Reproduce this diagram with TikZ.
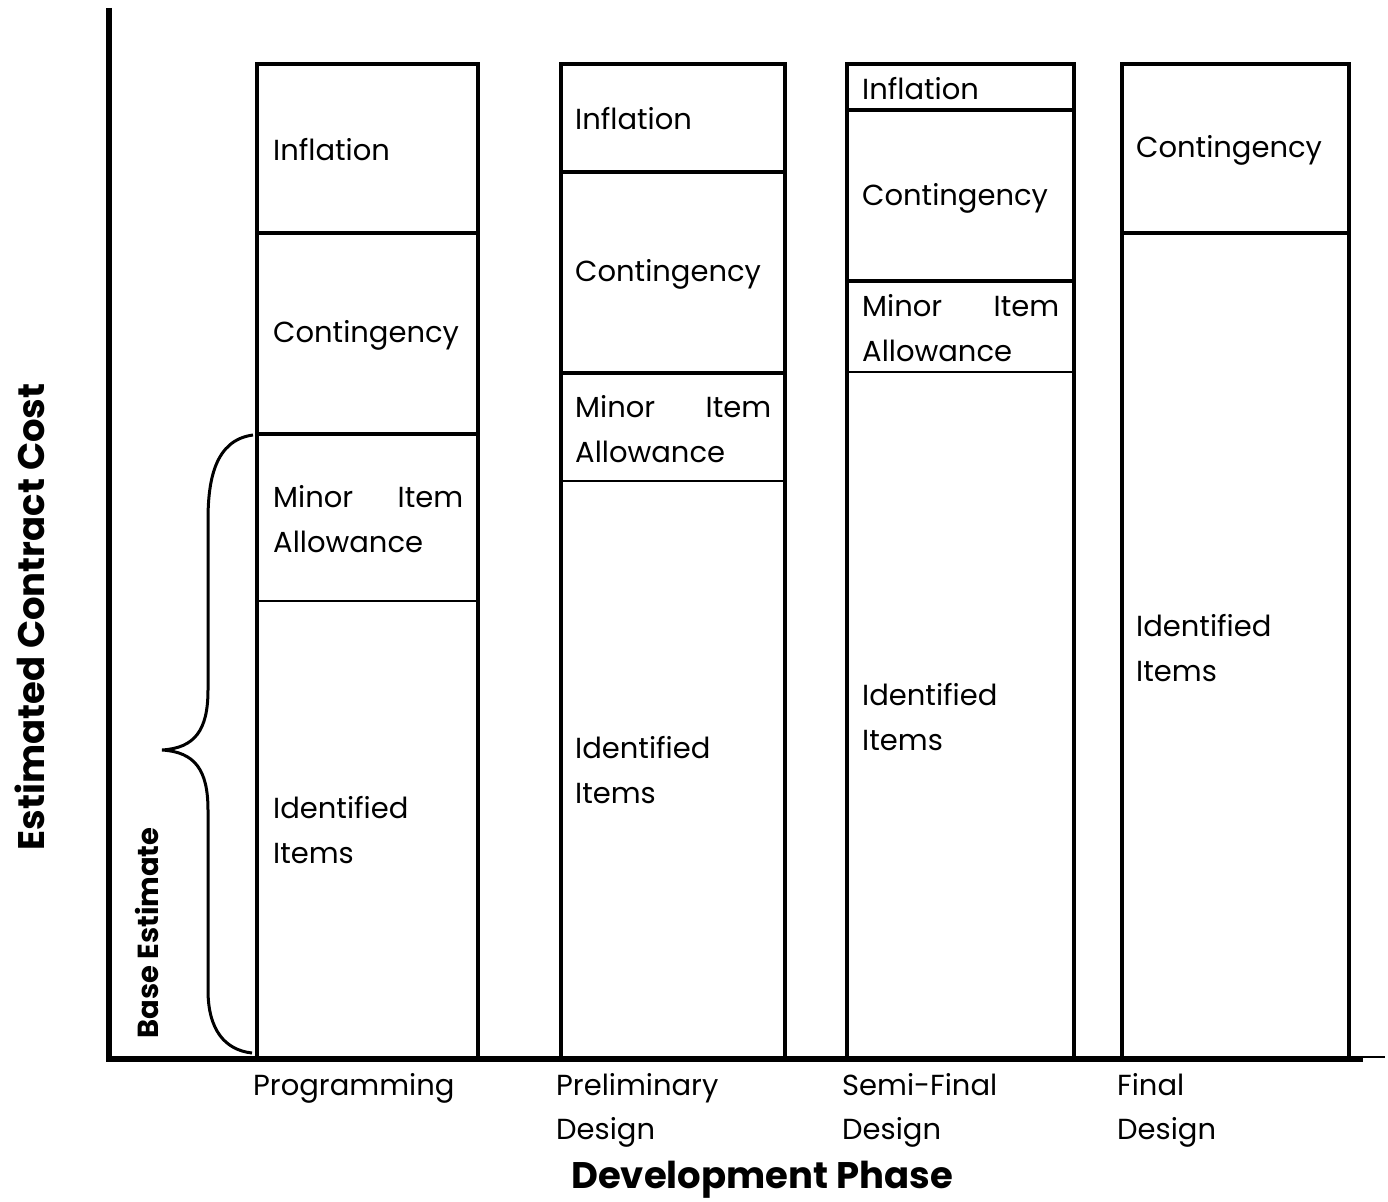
\documentclass[tikz,border=0pt]{standalone}
\usepackage{fontspec}
\setmainfont{Poppins}
\begin{document}
\begin{tikzpicture}[x=1pt,y=-1pt,
  cell/.style={anchor=west,inner sep=0pt,align=left,font=\fontsize{29}{45}\selectfont},
  phase/.style={anchor=north west,inner sep=0pt,align=left,font=\fontsize{29}{44}\selectfont},
  colbox/.style={line width=4pt},
  thick div/.style={line width=4pt},
  thin div/.style={line width=2pt},
  axisline/.style={line width=5.5pt}]
\useasboundingbox (0,0) rectangle (1388,1201);
% columns
\draw[colbox] (257,1059) -- (257,64) -- (478,64) -- (478,1059);
\draw[colbox] (561,1059) -- (561,64) -- (785,64) -- (785,1059);
\draw[colbox] (847,1059) -- (847,64) -- (1074,64) -- (1074,1059);
\draw[colbox] (1122,1059) -- (1122,64) -- (1349,64) -- (1349,1059);
% dividers
\draw[thick div] (257,233) -- (478,233);
\draw[thick div] (257,434) -- (478,434);
\draw[thin div] (257,601) -- (478,601);
\draw[thick div] (561,172) -- (785,172);
\draw[thick div] (561,373) -- (785,373);
\draw[thin div] (561,481) -- (785,481);
\draw[thick div] (847,110) -- (1074,110);
\draw[thick div] (847,281) -- (1074,281);
\draw[thin div] (847,372) -- (1074,372);
\draw[thick div] (1122,233) -- (1349,233);
% axes
\coordinate (top) at (109,8);
\coordinate (origin) at (109,1059);
\coordinate (xend) at (1363,1059);
\coordinate (xtail) at (1385,1057);
\draw[axisline] (top) -- (origin) -- (xend);
\draw[line width=1.5pt] (1363,1057) -- (xtail);
% cell texts column 1
\node[cell] (p1) at (273,150) {Inflation};
\node[cell] (p2) at (273,335) {Contingency};
\node[cell,text width=190pt] (p3) at (273,519) {Minor\hfill Item\\Allowance};
\node[cell] (p4) at (273,830) {Identified\\Items};
% column 2
\node[cell] (q1) at (575,119) {Inflation};
\node[cell] (q2) at (575,274) {Contingency};
\node[cell,text width=196pt] (q3) at (575,429) {Minor\hfill Item\\Allowance};
\node[cell] (q4) at (575,770) {Identified\\Items};
% column 3
\node[cell] (r1) at (862,89) {Inflation};
\node[cell] (r2) at (862,198) {Contingency};
\node[cell,text width=197pt] (r3) at (862,328) {Minor\hfill Item\\Allowance};
\node[cell] (r4) at (862,717) {Identified\\Items};
% column 4
\node[cell] (s1) at (1136,150) {Contingency};
\node[cell] (s2) at (1136,648) {Identified\\Items};
% phase labels
\node[phase] (l1) at (253,1073) {Programming};
\node[phase] (l2) at (556,1073) {Preliminary\\Design};
\node[phase] (l3) at (842,1073) {Semi-Final\\Design};
\node[phase] (l4) at (1117,1073) {Final\\Design};
% axis titles
\node[font=\fontsize{37}{42}\selectfont\bfseries,inner sep=0pt] (xt) at (762,1180) {Development Phase};
\node[font=\fontsize{37}{42}\selectfont\bfseries,inner sep=0pt,rotate=90] (yt) at (30,617) {Estimated Contract Cost};
\node[font=\fontsize{29}{32}\selectfont\bfseries,inner sep=0pt,rotate=90] (be) at (147,933) {Base Estimate};
% brace
\draw[line width=3pt] (253,435) .. controls (215,440) and (208,480) .. (208,520) -- (208,690)
  .. controls (208,730) and (195,748) .. (162,750)
  .. controls (195,752) and (208,770) .. (208,810) -- (208,990)
  .. controls (208,1030) and (225,1050) .. (252,1053);
\end{tikzpicture}
\end{document}
